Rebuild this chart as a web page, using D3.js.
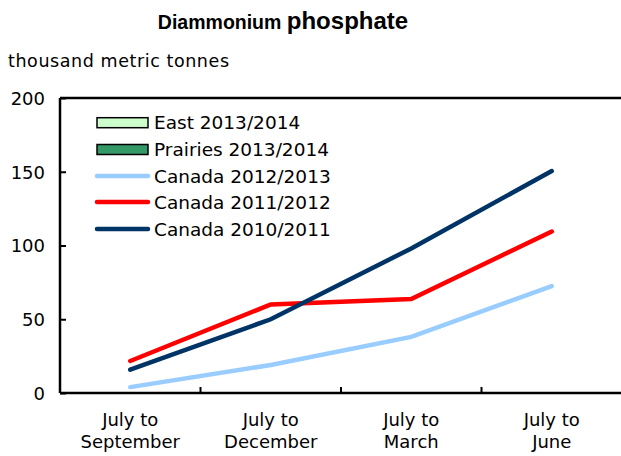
<!DOCTYPE html>
<html><head><meta charset="utf-8">
<script src="https://cdn.jsdelivr.net/npm/d3@7"></script>
<style>body{margin:0;background:#fff}svg{display:block}text{font-family:"DejaVu Sans",Verdana,sans-serif;fill:#000}</style>
</head><body><svg id="c" width="621" height="456"></svg>
<script>
const categories = ["July to\nSeptember","July to\nDecember","July to\nMarch","July to\nJune"];
const canada2012 = [4, 19, 38, 72.5];
const canada2011 = [21.7, 60, 63.7, 109.5];
const canada2010 = [15.8, 50, 98, 150.5];
const yTicks = [0, 50, 100, 150, 200];
const lineSeries = [
  {name:"Canada 2012/2013", values:canada2012, color:"#99CCFF"},
  {name:"Canada 2011/2012", values:canada2011, color:"#FF0000"},
  {name:"Canada 2010/2011", values:canada2010, color:"#003366"}
];
const barLegend = [
  {name:"East 2013/2014", color:"#CCFFCC"},
  {name:"Prairies 2013/2014", color:"#339966"}
];

const svg = d3.select("#c");
const L = 60, R = 622, T = 98, B = 393;
const x = d3.scaleBand().domain(categories).range([L, R]);
const y = d3.scaleLinear().domain([0, 200]).range([B, T]);

// title
const title = svg.append("text").attr("x", 283).attr("y", 29).attr("text-anchor","middle").style("font-family","Liberation Sans, Arial, sans-serif").style("font-weight","bold");
title.append("tspan").attr("font-size", 19.5).text("Diammonium ");
title.append("tspan").attr("font-size", 24).text("phosphate");

svg.append("text").attr("x", 8).attr("y", 67).attr("font-size", 17.5).attr("textLength", 221).text("thousand metric tonnes");

// lines
const line = d3.line().x((d,i)=>x(categories[i]) + x.bandwidth()/2).y(d=>y(d));
lineSeries.forEach(s=>{
  svg.append("path").datum(s.values).attr("d", line).attr("fill","none")
    .attr("stroke", s.color).attr("stroke-width", 4.5).attr("stroke-linecap","round").attr("stroke-linejoin","miter");
});

// frame
svg.append("line").attr("x1", L).attr("x2", 621).attr("y1", T).attr("y2", T).attr("stroke","#000").attr("stroke-width",2.5);

// y axis
const yAxis = svg.append("g").attr("transform", `translate(${L},0)`)
  .call(d3.axisRight(y).tickValues(yTicks).tickSize(6).tickFormat(d3.format("d")));
yAxis.select(".domain").attr("stroke-width",2.5).attr("d", `M0,${T}V${B}`);
yAxis.selectAll(".tick line").attr("stroke-width",2);
yAxis.selectAll(".tick text").attr("x", -15).attr("text-anchor","end").attr("font-size",18).attr("dy","0.35em").style("font-family","DejaVu Sans, sans-serif");

// x axis
const xAxis = svg.append("g").attr("transform", `translate(0,${B})`)
  .call(d3.axisTop(x).tickSize(0).tickFormat(""));
xAxis.select(".domain").attr("stroke-width",2.5).attr("d", `M${L},0H621`);
categories.slice(1).forEach(c=>{
  xAxis.append("line").attr("x1", x(c)).attr("x2", x(c)).attr("y1", 0).attr("y2", -6).attr("stroke","#000").attr("stroke-width",2);
});
categories.forEach(c=>{
  const parts = c.split("\n");
  const t = svg.append("text").attr("text-anchor","middle").attr("font-size",18);
  parts.forEach((p,i)=>t.append("tspan").attr("x", x(c)+x.bandwidth()/2).attr("y", 426 + i*22).text(p));
});

// legend
const lg = svg.append("g");
const rowY = [122.7, 149.5, 176, 202, 229];
barLegend.forEach((b,i)=>{
  lg.append("rect").attr("x", 97).attr("y", rowY[i]-5).attr("width", 51).attr("height", 10)
    .attr("fill", b.color).attr("stroke","#000").attr("stroke-width",1.5);
  lg.append("text").attr("x", 154).attr("y", rowY[i]).attr("dy","0.36em").attr("font-size",18.5).text(b.name);
});
lineSeries.forEach((s,j)=>{
  const yy = rowY[j+2];
  lg.append("line").attr("x1", 97).attr("x2", 148).attr("y1", yy).attr("y2", yy)
    .attr("stroke", s.color).attr("stroke-width", 4.5).attr("stroke-linecap","round");
  lg.append("text").attr("x", 154).attr("y", yy).attr("dy","0.36em").attr("font-size",18.5).text(s.name);
});
</script></body></html>
